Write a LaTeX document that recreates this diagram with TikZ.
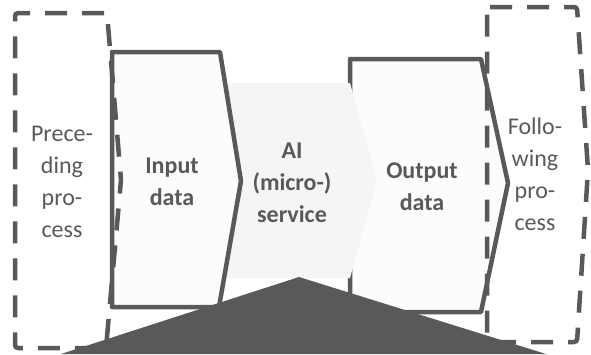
\documentclass[tikz,border=0pt]{standalone}
\usepackage{fontspec}
\setmainfont{Carlito}
\definecolor{dg}{HTML}{595959}
\definecolor{svcfill}{HTML}{F5F5F5}
\definecolor{boxfill}{HTML}{FCFCFC}
\begin{document}
\begin{tikzpicture}[x=1pt,y=-1pt,
  solidbox/.style={draw=dg,line width=4.5pt,fill=boxfill,line join=round},
  dashbox/.style={draw=dg,line width=4.5pt,dash pattern=on 22pt off 15pt,rounded corners=3pt},
  lbl/.style={text=dg,font=\fontsize{24}{32}\selectfont,align=center,inner sep=0pt,anchor=base},
  blbl/.style={lbl,font=\fontsize{24}{32}\selectfont\bfseries}]
\useasboundingbox (0,0) rectangle (591,354);
% output data box
\draw[solidbox] (350,59) -- (481,59) -- (508,183) -- (481,312) -- (350,312) -- cycle;
% AI service (fill only)
\fill[svcfill] (225,83) -- (350,83) -- (377,180) -- (350,278) -- (225,278) -- cycle;
% input data box
\draw[solidbox] (112,52) -- (220,52) -- (241,181) -- (219,307) -- (112,307) -- cycle;
% dashed process boxes
\draw[dashbox] (107,13) -- (15,13) -- (15,348) -- (106,348) -- (121,180) -- cycle;
\draw[dashbox] (487,7) -- (577,7) -- (588,170) -- (577,342) -- (487,342) -- cycle;
% dark wedge
\fill[dg] (61,354) -- (299,277) -- (546,354) -- cycle;
% labels (anchor base = baseline of last line)
\node[lbl]  (pre) at (62,237) {Prece-\\ding\\pro-\\cess};
\node[blbl] (in)  at (172,205) {Input\\data};
\node[blbl] (ai)  at (292,222) {AI\\(micro-)\\service};
\node[blbl] (out) at (422,210) {Output\\data};
\node[lbl]  (fol) at (535,230) {Follo-\\wing\\pro-\\cess};
\end{tikzpicture}
\end{document}
